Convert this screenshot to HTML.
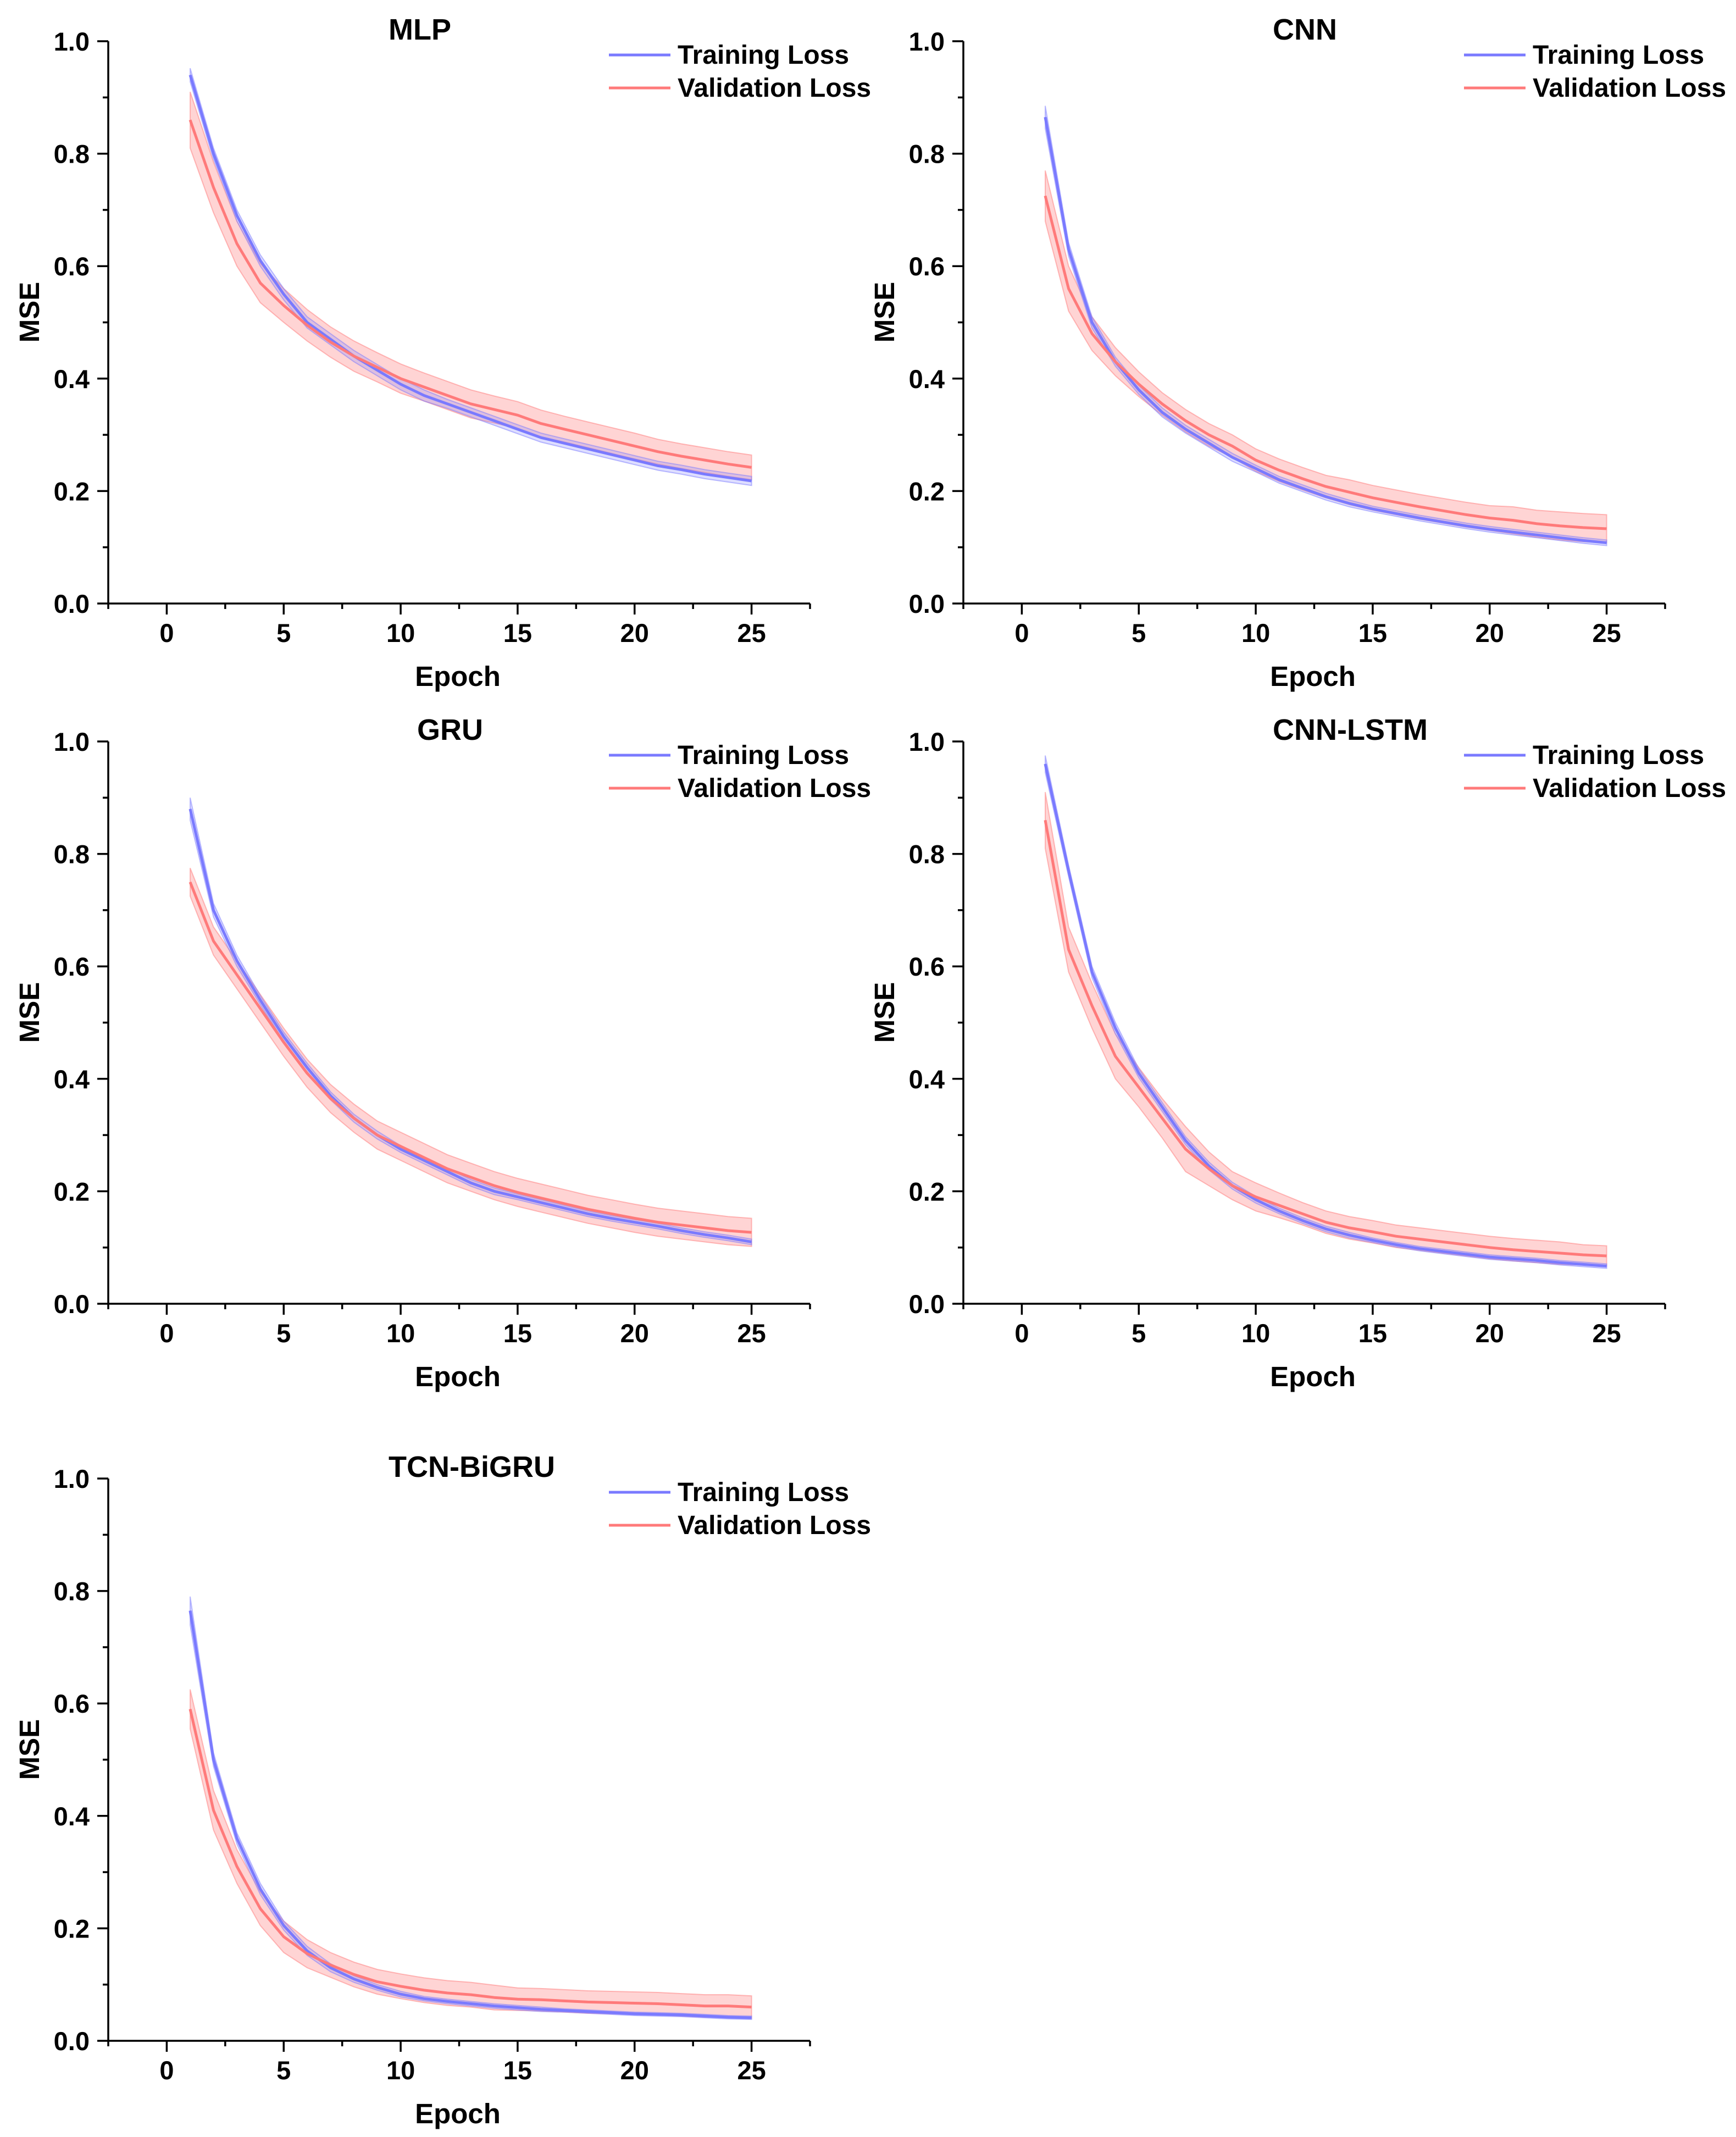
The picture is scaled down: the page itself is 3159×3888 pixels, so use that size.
<!DOCTYPE html>
<html><head><meta charset="utf-8">
<style>
html,body{margin:0;padding:0;background:#fff;}
svg{display:block;}
text{font-family:"Liberation Sans",Arial,sans-serif;font-weight:bold;fill:#000;}
</style></head>
<body>
<svg id="fig" xmlns="http://www.w3.org/2000/svg" width="3159" height="3888" viewBox="0 0 3159 3888"></svg>
<script>
const epochs = [1,2,3,4,5,6,7,8,9,10,11,12,13,14,15,16,17,18,19,20,21,22,23,24,25];
const yTicks = [0.0,0.2,0.4,0.6,0.8,1.0];
const yTickLabels = ["0.0","0.2","0.4","0.6","0.8","1.0"];
const xTicks = [0,5,10,15,20,25];
const xTickLabels = ["0","5","10","15","20","25"];

const mlpTrain = [0.94,0.80,0.69,0.61,0.55,0.50,0.47,0.44,0.415,0.39,0.37,0.355,0.34,0.325,0.31,0.295,0.285,0.275,0.265,0.255,0.245,0.238,0.23,0.224,0.218];
const mlpVal = [0.86,0.74,0.64,0.57,0.53,0.495,0.465,0.44,0.42,0.40,0.385,0.37,0.355,0.345,0.335,0.32,0.31,0.30,0.29,0.28,0.27,0.262,0.255,0.248,0.242];
const mlpTrainStd = [0.012,0.01,0.01,0.01,0.01,0.01,0.01,0.01,0.01,0.01,0.01,0.008,0.008,0.008,0.008,0.008,0.008,0.008,0.008,0.008,0.008,0.008,0.008,0.008,0.008];
const mlpValStd = [0.05,0.045,0.04,0.035,0.03,0.028,0.027,0.027,0.026,0.026,0.025,0.025,0.025,0.024,0.024,0.024,0.023,0.023,0.023,0.023,0.022,0.022,0.022,0.022,0.022];

const cnnTrain = [0.865,0.63,0.50,0.43,0.38,0.34,0.31,0.285,0.26,0.24,0.22,0.205,0.19,0.178,0.168,0.16,0.152,0.145,0.138,0.132,0.127,0.122,0.117,0.112,0.108];
const cnnVal = [0.725,0.56,0.48,0.43,0.39,0.355,0.325,0.30,0.28,0.255,0.237,0.222,0.208,0.198,0.188,0.18,0.172,0.165,0.158,0.152,0.148,0.142,0.138,0.135,0.133];
const cnnTrainStd = [0.02,0.012,0.01,0.008,0.008,0.008,0.007,0.007,0.007,0.006,0.006,0.006,0.006,0.006,0.005,0.005,0.005,0.005,0.005,0.005,0.005,0.005,0.005,0.005,0.005];
const cnnValStd = [0.045,0.04,0.03,0.025,0.022,0.02,0.02,0.02,0.02,0.02,0.02,0.02,0.02,0.022,0.022,0.022,0.022,0.022,0.022,0.022,0.024,0.024,0.025,0.025,0.025];

const gruTrain = [0.88,0.70,0.61,0.54,0.475,0.42,0.37,0.33,0.30,0.275,0.255,0.235,0.215,0.20,0.19,0.18,0.17,0.16,0.152,0.145,0.138,0.13,0.123,0.117,0.11];
const gruVal = [0.75,0.645,0.585,0.525,0.465,0.41,0.365,0.33,0.30,0.28,0.26,0.24,0.225,0.21,0.198,0.188,0.178,0.168,0.16,0.152,0.145,0.14,0.135,0.13,0.127];
const gruTrainStd = [0.02,0.012,0.01,0.008,0.008,0.008,0.007,0.007,0.007,0.006,0.006,0.006,0.006,0.006,0.005,0.005,0.005,0.005,0.005,0.005,0.005,0.005,0.005,0.005,0.005];
const gruValStd = [0.025,0.025,0.025,0.025,0.025,0.025,0.025,0.025,0.025,0.025,0.025,0.025,0.025,0.025,0.025,0.025,0.025,0.025,0.025,0.025,0.025,0.025,0.025,0.025,0.025];

const lstmTrain = [0.96,0.77,0.59,0.49,0.41,0.35,0.29,0.245,0.21,0.185,0.165,0.148,0.133,0.122,0.113,0.105,0.098,0.093,0.088,0.083,0.08,0.077,0.073,0.07,0.067];
const lstmVal = [0.86,0.63,0.53,0.44,0.385,0.33,0.275,0.24,0.21,0.19,0.175,0.16,0.145,0.135,0.128,0.12,0.115,0.11,0.105,0.1,0.096,0.093,0.09,0.087,0.085];
const lstmTrainStd = [0.015,0.01,0.01,0.01,0.008,0.008,0.007,0.007,0.006,0.006,0.005,0.005,0.005,0.005,0.004,0.004,0.004,0.004,0.004,0.004,0.004,0.004,0.004,0.004,0.004];
const lstmValStd = [0.05,0.04,0.04,0.04,0.035,0.035,0.04,0.03,0.025,0.025,0.022,0.02,0.02,0.02,0.02,0.02,0.02,0.02,0.02,0.02,0.02,0.02,0.02,0.018,0.018];

const tcnTrain = [0.765,0.50,0.36,0.27,0.205,0.16,0.13,0.11,0.095,0.083,0.075,0.07,0.066,0.062,0.059,0.056,0.054,0.052,0.05,0.048,0.047,0.046,0.044,0.042,0.041];
const tcnVal = [0.59,0.41,0.31,0.235,0.185,0.155,0.135,0.118,0.105,0.097,0.09,0.085,0.082,0.077,0.074,0.073,0.071,0.069,0.068,0.067,0.066,0.064,0.062,0.062,0.06];
const tcnTrainStd = [0.025,0.012,0.01,0.01,0.008,0.008,0.007,0.006,0.005,0.005,0.004,0.004,0.004,0.004,0.004,0.004,0.003,0.003,0.003,0.003,0.003,0.003,0.003,0.003,0.003];
const tcnValStd = [0.035,0.035,0.03,0.03,0.028,0.025,0.022,0.022,0.022,0.022,0.022,0.022,0.022,0.022,0.02,0.02,0.02,0.02,0.02,0.02,0.02,0.02,0.02,0.02,0.02];

const panelTitles = ["MLP","CNN","GRU","CNN-LSTM","TCN-BiGRU"];

const NS = "http://www.w3.org/2000/svg";
const svg = document.getElementById("fig");
function mk(tag, attrs, parent){
  const e = document.createElementNS(NS, tag);
  for (const k in attrs) e.setAttribute(k, attrs[k]);
  (parent||svg).appendChild(e);
  return e;
}

const panels = [
  {name:"mlp", ox:197, oy:75, titleX:707, train:mlpTrain, val:mlpVal, ts:mlpTrainStd, vs:mlpValStd, title:panelTitles[0]},
  {name:"cnn", ox:1753, oy:75, titleX:2316, train:cnnTrain, val:cnnVal, ts:cnnTrainStd, vs:cnnValStd, title:panelTitles[1]},
  {name:"gru", ox:197, oy:1349, titleX:759, train:gruTrain, val:gruVal, ts:gruTrainStd, vs:gruValStd, title:panelTitles[2]},
  {name:"cnn-lstm", ox:1753, oy:1349, titleX:2316, train:lstmTrain, val:lstmVal, ts:lstmTrainStd, vs:lstmValStd, title:panelTitles[3]},
  {name:"tcn-bigru", ox:197, oy:2690, titleX:707, train:tcnTrain, val:tcnVal, ts:tcnTrainStd, vs:tcnValStd, title:panelTitles[4]}
];

const W = 1277, H = 1023, XMIN = -2.5, XMAX = 27.5;
const BLUE = "rgb(122,122,255)", RED = "rgb(255,122,122)";

panels.forEach(p => {
  const g = mk("g", {});
  
  
  const xs = v => p.ox + (v - XMIN) / (XMAX - XMIN) * W;
  const ys = v => p.oy + H - v * H;
  const y0 = p.oy + H;

  function band(vals, std, fill, stroke, nm){
    let d = "";
    epochs.forEach((e,i)=>{ d += (i?"L":"M") + xs(e).toFixed(1) + "," + ys(vals[i]+std[i]).toFixed(1); });
    for (let i=epochs.length-1;i>=0;i--) d += "L" + xs(epochs[i]).toFixed(1) + "," + ys(vals[i]-std[i]).toFixed(1);
    d += "Z";
    const b = mk("path", {d:d, fill:fill, stroke:stroke, "stroke-width":2, "stroke-opacity":0.5}, g);
    
    
  }
  function line(vals, color, nm){
    const pts = epochs.map((e,i)=> xs(e).toFixed(1)+","+ys(vals[i]).toFixed(1)).join(" ");
    const l = mk("polyline", {points:pts, fill:"none", stroke:color, "stroke-width":5, "stroke-linejoin":"round"}, g);
    
    
  }
  band(p.val, p.vs, "rgba(255,122,122,0.32)", RED, "validation-loss-band");
  band(p.train, p.ts, "rgba(122,122,255,0.25)", BLUE, "training-loss-band");
  line(p.train, BLUE, "training-loss-line");
  line(p.val, RED, "validation-loss-line");

  const ax = mk("path", {d:`M${p.ox},${p.oy} V${y0} H${p.ox+W}`, fill:"none", stroke:"#000", "stroke-width":3.5}, g);
  
  
  yTicks.forEach((v,i)=>{
    mk("line", {x1:p.ox-20, x2:p.ox, y1:ys(v), y2:ys(v), stroke:"#000", "stroke-width":3.5}, g);
    const t = mk("text", {x:p.ox-34, y:ys(v)+17, "text-anchor":"end", "font-size":47}, g);
    t.textContent = yTickLabels[i];
    
    
    if (i < yTicks.length-1) {
      const m = (v + yTicks[i+1]) / 2;
      mk("line", {x1:p.ox-10, x2:p.ox, y1:ys(m), y2:ys(m), stroke:"#000", "stroke-width":3.5}, g);
    }
  });
  xTicks.forEach((v,i)=>{
    mk("line", {x1:xs(v), x2:xs(v), y1:y0, y2:y0+20, stroke:"#000", "stroke-width":3.5}, g);
    const t = mk("text", {x:xs(v), y:y0+70, "text-anchor":"middle", "font-size":47}, g);
    t.textContent = xTickLabels[i];
    
    
  });
  for (let m = XMIN; m <= XMAX + 0.01; m += 5) {
    mk("line", {x1:xs(m), x2:xs(m), y1:y0, y2:y0+10, stroke:"#000", "stroke-width":3.5}, g);
  }
  const xl = mk("text", {x:p.ox+636, y:y0+150, "text-anchor":"middle", "font-size":51}, g);
  xl.textContent = "Epoch";
  
  
  const yl = mk("text", {x:0, y:0, "text-anchor":"middle", "font-size":51, transform:`translate(${p.ox-126},${p.oy+493}) rotate(-90)`}, g);
  yl.textContent = "MSE";
  
  
  const tt = mk("text", {x:p.titleX, y:p.oy-3, "font-size":54}, g);
  tt.textContent = p.title;
  
  
  const lx = p.ox + 911;
  [["Training Loss", BLUE, 25, "legend-entry-training"],["Validation Loss", RED, 85, "legend-entry-validation"]].forEach(L=>{
    const lg = mk("g", {}, g);
    
    
    mk("line", {x1:lx, x2:lx+112, y1:p.oy+L[2], y2:p.oy+L[2], stroke:L[1], "stroke-width":5}, lg);
    const lt = mk("text", {x:lx+125, y:p.oy+L[2]+16, "font-size":48}, lg);
    lt.textContent = L[0];
  });
});
</script>
</body></html>
